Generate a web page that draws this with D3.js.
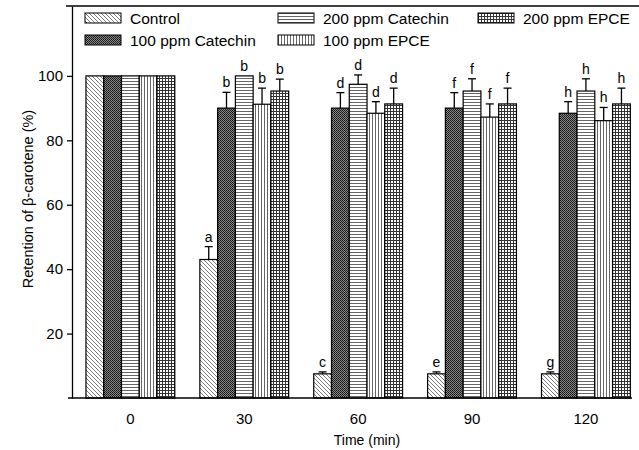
<!DOCTYPE html>
<html>
<head>
<meta charset="utf-8">
<script src="https://cdn.jsdelivr.net/npm/d3@7"></script>
<style>
  html, body { margin: 0; padding: 0; background: #fff; }
  svg text { font-family: "Liberation Sans", Arial, sans-serif; fill: #000; }
</style>
</head>
<body>
<div id="chart"></div>
<script>
const TIMES = ['0', '30', '60', '90', '120'];
const SERIES = ['Control', '100 ppm Catechin', '200 ppm Catechin', '100 ppm EPCE', '200 ppm EPCE'];
const PATTERNS = ['p-ctrl', 'p-cat100', 'p-cat200', 'p-epce100', 'p-epce200'];

// retention (%) per series, one value per time
const control  = [100, 43, 7.5, 7.5, 7.5];
const cat100   = [100, 90, 90, 90, 88.4];
const cat200   = [100, 100, 97.4, 95.3, 95.3];
const epce100  = [100, 91.2, 88.4, 87.2, 86.1];
const epce200  = [100, 95.3, 91.3, 91.3, 91.3];
// upper error (SD)
const controlErr = [0, 4, 0.6, 0.6, 0.6];
const cat100Err  = [0, 4.9, 4.8, 4.8, 3.6];
const cat200Err  = [0, 0, 2.9, 3.8, 3.8];
const epce100Err = [0, 5, 3.6, 4.1, 4.1];
const epce200Err = [0, 3.7, 4.9, 4.9, 4.9];
// significance letters, per time then per series
const LETTERS = [
  ['', '', '', '', ''],
  ['a', 'b', 'b', 'b', 'b'],
  ['c', 'd', 'd', 'd', 'd'],
  ['e', 'f', 'f', 'f', 'f'],
  ['g', 'h', 'h', 'h', 'h'],
];
const Y_TICKS = [20, 40, 60, 80, 100];

const VALUES = [control, cat100, cat200, epce100, epce200];
const ERRORS = [controlErr, cat100Err, cat200Err, epce100Err, epce200Err];

const W = 639, H = 450;
const svg = d3.select('#chart').append('svg').attr('width', W).attr('height', H);

// fill patterns
const defs = svg.append('defs');
function pat(id, w, h) {
  const p = defs.append('pattern').attr('id', id).attr('patternUnits', 'userSpaceOnUse')
    .attr('width', w).attr('height', h);
  p.append('rect').attr('width', w).attr('height', h).attr('fill', '#fff');
  return p;
}
pat('p-ctrl', 4, 4).append('path')
  .attr('d', 'M-1,-1L5,5M3,-1L5,1M-1,3L1,5').attr('stroke', '#7a7a7a').attr('stroke-width', 1);
{
  const p = pat('p-cat100', 2, 2);
  p.append('rect').attr('width', 2).attr('height', 2).attr('fill', '#8a8a8a');
  p.append('rect').attr('width', 1).attr('height', 1).attr('fill', '#111');
  p.append('rect').attr('x', 1).attr('y', 1).attr('width', 1).attr('height', 1).attr('fill', '#222');
}
pat('p-cat200', 3, 3).append('rect').attr('y', 0).attr('width', 3).attr('height', 1).attr('fill', '#666');
pat('p-epce100', 3, 3).append('rect').attr('x', 0).attr('width', 1).attr('height', 3).attr('fill', '#666');
{
  const p = pat('p-epce200', 3, 3);
  p.append('rect').attr('width', 3).attr('height', 1).attr('fill', '#333');
  p.append('rect').attr('width', 1).attr('height', 3).attr('fill', '#333');
}

const x0 = d3.scaleBand().domain(TIMES).range([72.3, 644]).paddingInner(0.22).paddingOuter(0.12);
const x1 = d3.scaleBand().domain(SERIES).range([0, x0.bandwidth()]);
const y = d3.scaleLinear().domain([0, 121.7]).range([398, 6]);

const rows = [];
TIMES.forEach((t, ti) => SERIES.forEach((s, si) => rows.push({
  t, s, si, v: VALUES[si][ti], e: ERRORS[si][ti], lab: LETTERS[ti][si]
})));

// error bars (behind bars)
const eb = svg.append('g').attr('stroke', '#000').attr('stroke-width', 1.3);
rows.filter(d => d.e > 0).forEach(d => {
  const cx = x0(d.t) + x1(d.s) + x1.bandwidth() / 2;
  eb.append('line').attr('x1', cx).attr('x2', cx).attr('y1', y(d.v)).attr('y2', y(d.v + d.e));
  eb.append('line').attr('x1', cx - 4).attr('x2', cx + 4).attr('y1', y(d.v + d.e)).attr('y2', y(d.v + d.e));
});

// bars
svg.append('g').selectAll('rect').data(rows).join('rect')
  .attr('x', d => x0(d.t) + x1(d.s))
  .attr('width', x1.bandwidth())
  .attr('y', d => y(d.v))
  .attr('height', d => y(0) - y(d.v))
  .attr('fill', d => `url(#${PATTERNS[d.si]})`)
  .attr('stroke', '#000').attr('stroke-width', 1.2);

// letters
svg.append('g').selectAll('text').data(rows.filter(d => d.lab)).join('text')
  .attr('x', d => x0(d.t) + x1(d.s) + x1.bandwidth() / 2)
  .attr('y', d => y(d.v + d.e) - 5)
  .attr('text-anchor', 'middle').attr('font-size', 14)
  .text(d => d.lab);

// axes
svg.append('g').attr('transform', 'translate(72,0)')
  .call(d3.axisLeft(y).tickValues(Y_TICKS).tickSize(5).tickSizeOuter(0).tickPadding(4))
  .call(g => g.selectAll('text').attr('font-size', 15).attr('font-family', '"Liberation Sans", Arial, sans-serif'))
  .call(g => g.selectAll('line,path').attr('stroke', '#000').attr('stroke-width', 1.3));
svg.append('line').attr('x1', 66).attr('x2', 639).attr('y1', y.range()[1]).attr('y2', y.range()[1])
  .attr('stroke', '#000').attr('stroke-width', 1.3);
svg.append('line').attr('x1', 68).attr('x2', 632).attr('y1', y(0)).attr('y2', y(0))
  .attr('stroke', '#000').attr('stroke-width', 1.5);

svg.append('g').selectAll('text').data(TIMES).join('text')
  .attr('x', d => x0(d) + x0.bandwidth() / 2).attr('y', 424)
  .attr('text-anchor', 'middle').attr('font-size', 15).text(d => d);

svg.append('text').attr('x', 367).attr('y', 445).attr('text-anchor', 'middle')
  .attr('font-size', 14).text('Time (min)');
svg.append('text').attr('transform', 'translate(33,199) rotate(-90)').attr('text-anchor', 'middle')
  .attr('font-size', 14.5).text('Retention of β-carotene (%)');

// legend
const LEG_POS = [[85, 13], [85, 35], [278, 13], [278, 35], [478, 13]];
const leg = svg.append('g').selectAll('g').data(SERIES).join('g')
  .attr('transform', (d, i) => `translate(${LEG_POS[i][0]},${LEG_POS[i][1]})`);
leg.append('rect').attr('width', 36).attr('height', 10)
  .attr('fill', (d, i) => `url(#${PATTERNS[i]})`).attr('stroke', '#000').attr('stroke-width', 1);
leg.append('text').attr('x', 45).attr('y', 10.5).attr('font-size', 15.5).text(d => d);
</script>
</body>
</html>
